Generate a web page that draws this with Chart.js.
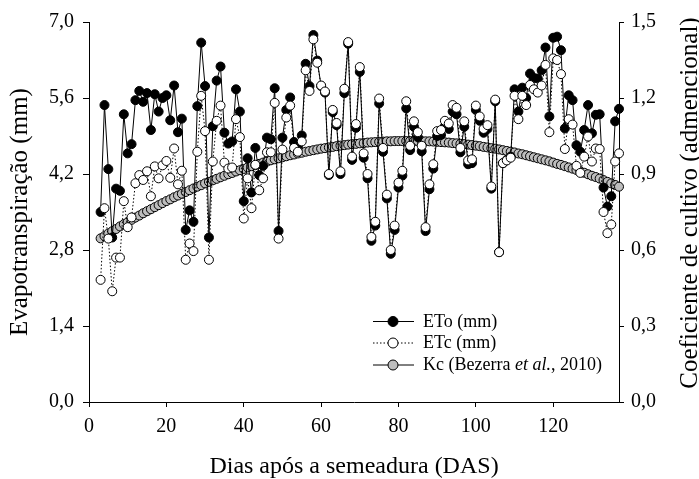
<!DOCTYPE html>
<html><head><meta charset="utf-8">
<script src="https://cdn.jsdelivr.net/npm/chart.js@4.4.0/dist/chart.umd.min.js"></script>
<style>html,body{margin:0;padding:0;background:#fff;}#wrap{width:699px;height:479px;}</style>
</head><body><div id="wrap"><canvas id="c" width="699" height="479"></canvas></div>
<script>
const days = [3,4,5,6,7,8,9,10,11,12,13,14,15,16,17,18,19,20,21,22,23,24,25,26,27,28,29,30,31,32,33,34,35,36,37,38,39,40,41,42,43,44,45,46,47,48,49,50,51,52,53,54,55,56,57,58,59,60,61,62,63,64,65,66,67,68,69,70,71,72,73,74,75,76,77,78,79,80,81,82,83,84,85,86,87,88,89,90,91,92,93,94,95,96,97,98,99,100,101,102,103,104,105,106,107,108,109,110,111,112,113,114,115,116,117,118,119,120,121,122,123,124,125,126,127,128,129,130,131,132,133,134,135,136,137];
const eto = [3.50,5.47,4.29,3.03,3.93,3.89,5.30,4.58,4.75,
5.56,5.73,5.53,5.69,5.01,5.67,5.35,5.60,5.65,5.19,
5.83,4.97,5.22,3.17,3.53,3.32,5.45,6.62,5.82,3.03,
5.08,5.92,6.18,4.96,4.76,4.80,5.76,5.35,3.70,4.49,
3.86,4.68,4.18,4.35,4.87,4.84,5.78,3.15,4.87,5.38,
5.61,4.79,4.70,4.91,6.23,5.82,6.76,6.29,5.82,5.70,
4.18,5.34,5.10,4.20,5.69,6.60,4.46,5.05,6.08,4.50,
4.12,2.97,3.25,5.50,4.61,3.75,2.73,3.17,3.95,4.17,
5.41,4.64,5.07,4.88,4.62,3.15,3.92,4.30,4.90,4.92,
5.08,5.03,5.35,5.30,4.60,5.07,4.38,4.40,5.38,5.18,
4.96,5.03,3.93,5.54,2.76,4.40,4.46,4.52,5.76,5.35,
5.79,5.60,6.05,5.97,5.96,6.11,6.53,5.26,6.71,6.73,
6.48,5.04,5.65,5.56,4.73,4.61,5.01,5.47,4.95,5.29,
5.30,3.95,3.60,3.79,5.17,5.40];
const etc = [2.25,3.57,3.01,2.04,2.66,2.66,3.70,3.22,3.40,
4.03,4.18,4.09,4.25,3.79,4.34,4.12,4.36,4.44,4.13,
4.67,4.01,4.26,2.62,2.92,2.78,4.61,5.64,4.99,2.62,
4.43,5.18,5.46,4.41,4.30,4.32,5.21,4.88,3.38,4.12,
3.57,4.37,3.90,4.12,4.60,4.60,5.51,3.01,4.65,5.24,
5.46,4.68,4.61,4.80,6.11,5.73,6.68,6.25,5.83,5.72,
4.20,5.38,5.14,4.25,5.77,6.63,4.52,5.12,6.17,4.58,
4.20,3.04,3.32,5.59,4.68,3.82,2.80,3.25,4.04,4.26,
5.54,4.72,5.17,4.97,4.72,3.22,4.01,4.38,4.99,5.01,
5.18,5.13,5.47,5.42,4.68,5.17,4.45,4.47,5.46,5.26,
5.03,5.10,3.97,5.57,2.76,4.40,4.45,4.50,5.64,5.21,
5.64,5.47,5.84,5.76,5.70,5.83,6.21,4.97,6.33,6.30,
6.04,4.66,5.21,5.11,4.35,4.22,4.52,4.89,4.43,4.67,
4.66,3.50,3.11,3.27,4.43,4.58];
const kc = [0.646,0.655,0.665,0.674,0.683,0.693,0.702,0.710,0.719,
0.728,0.736,0.745,0.753,0.761,0.769,0.777,0.785,0.793,0.800,
0.808,0.815,0.822,0.829,0.836,0.843,0.850,0.856,0.863,0.869,
0.875,0.881,0.887,0.893,0.899,0.904,0.910,0.915,0.920,0.926,
0.931,0.935,0.940,0.945,0.949,0.954,0.958,0.962,0.966,0.970,
0.974,0.977,0.981,0.984,0.988,0.991,0.994,0.997,1.000,1.002,
1.005,1.007,1.010,1.012,1.014,1.016,1.018,1.019,1.021,1.022,
1.024,1.025,1.026,1.027,1.028,1.029,1.029,1.030,1.030,1.030,
1.030,1.030,1.030,1.030,1.030,1.029,1.029,1.028,1.027,1.026,
1.025,1.024,1.022,1.021,1.019,1.018,1.016,1.014,1.012,1.010,
1.007,1.005,1.002,1.000,0.997,0.994,0.991,0.988,0.985,0.981,
0.978,0.974,0.970,0.966,0.962,0.958,0.954,0.950,0.945,0.940,
0.936,0.931,0.926,0.921,0.916,0.910,0.905,0.899,0.893,0.888,
0.882,0.876,0.869,0.863,0.857,0.850];
const xTicks = [0,20,40,60,80,100,120];
const yTicks = [0,1.4,2.8,4.2,5.6,7.0];
const y2Ticks = [0,0.3,0.6,0.9,1.2,1.5];
const labels = ['ETo (mm)','ETc (mm)','Kc'];
const kcLegendParts = [['Kc (Bezerra ',false],['et al.',true],[', 2010)',false]];

const SERIF = "'Liberation Serif', 'Times New Roman', serif";
const comma = v => v.toFixed(1).replace('.', ',');
const pts = arr => days.map((d,i)=>({x:d,y:arr[i]}));

const legendPlugin = {
  id:'customLegend',
  afterDraw(chart){
    const ctx = chart.ctx;
    const x0 = 373, x1 = 414, xm = 393, tx = 423;
    const rows = [321,342.5,364.5];
    ctx.save();
    ctx.textBaseline = 'middle';
    chart.data.datasets.forEach((ds,i)=>{
      const y = rows[i];
      ctx.beginPath();
      ctx.strokeStyle = '#000';
      ctx.lineWidth = 1;
      ctx.setLineDash(ds.borderDash || []);
      ctx.moveTo(x0,y+0.5); ctx.lineTo(x1,y+0.5); ctx.stroke();
      ctx.setLineDash([]);
      ctx.beginPath();
      ctx.arc(xm,y+0.5,5,0,Math.PI*2);
      ctx.fillStyle = ds.pointBackgroundColor; ctx.fill();
      ctx.strokeStyle = '#000'; ctx.stroke();
      ctx.fillStyle = '#000';
      if (i < 2) {
        ctx.font = "18px " + SERIF;
        ctx.fillText(ds.label, tx, y+1);
      } else {
        let x = tx;
        kcLegendParts.forEach(([t,it])=>{
          ctx.font = (it ? 'italic ' : '') + "18px " + SERIF;
          ctx.fillText(t, x, y+1);
          x += ctx.measureText(t).width;
        });
      }
    });
    // right axis title (reads bottom to top)
    ctx.translate(690, 203);
    ctx.rotate(-Math.PI/2);
    ctx.font = "25px " + SERIF;
    ctx.textAlign = 'center';
    ctx.textBaseline = 'middle';
    ctx.fillStyle = '#000';
    ctx.fillText('Coeficiente de cultivo (admencional)', 0, 0);
    ctx.restore();
  }
};

const axisCommon = (tickLen) => ({
  grid:{display:true, drawOnChartArea:false, drawTicks:true, tickLength:tickLen, color:'#000', lineWidth:1},
  border:{display:true, color:'#000', width:1}
});

new Chart(document.getElementById('c'), {
  type:'line',
  data:{datasets:[
    {label:labels[0], data:pts(eto), yAxisID:'y', borderColor:'#000', borderWidth:1, tension:0,
     pointRadius:4.5, pointBackgroundColor:'#000', pointBorderColor:'#000', pointBorderWidth:1, order:2, clip:false},
    {label:labels[1], data:pts(etc), yAxisID:'y', borderColor:'#000', borderWidth:1, borderDash:[1.5,2], tension:0,
     pointRadius:4.5, pointBackgroundColor:'#fff', pointBorderColor:'#000', pointBorderWidth:1, order:1, clip:false},
    {label:labels[2], data:pts(kc), yAxisID:'y1', borderColor:'#000', borderWidth:1, tension:0,
     pointRadius:4.5, pointBackgroundColor:'#bdbdbd', pointBorderColor:'#000', pointBorderWidth:1, order:3, clip:false}
  ]},
  options:{
    responsive:false, animation:false, devicePixelRatio:1,
    layout:{padding:{top:22,left:0,right:0,bottom:0}},
    plugins:{legend:{display:false}, tooltip:{enabled:false}},
    scales:{
      x:{type:'linear', position:'bottom', min:0, max:137, ...axisCommon(5),
        afterBuildTicks:s=>{s.ticks = xTicks.map(v=>({value:v}));},
        afterFit:s=>{s.height = 77;},
        ticks:{color:'#000', font:{family:SERIF, size:20}, padding:8, maxRotation:0, autoSkip:false, callback:v=>String(v)},
        title:{display:true, text:'Dias após a semeadura (DAS)', color:'#000', font:{family:SERIF, size:24}, padding:{top:0,bottom:-2}}
      },
      y:{type:'linear', position:'left', min:0, max:7, ...axisCommon(6),
        afterBuildTicks:s=>{s.ticks = yTicks.map(v=>({value:v}));},
        afterFit:s=>{s.width = 89;},
        ticks:{color:'#000', font:{family:SERIF, size:20}, padding:9, autoSkip:false, callback:v=>comma(v)},
        title:{display:true, text:'Evapotranspiração (mm)', color:'#000', font:{family:SERIF, size:25}, padding:{top:5,bottom:0}}
      },
      y1:{type:'linear', position:'right', min:0, max:1.5, ...axisCommon(5),
        afterBuildTicks:s=>{s.ticks = y2Ticks.map(v=>({value:v}));},
        afterFit:s=>{s.width = 80;},
        ticks:{color:'#000', font:{family:SERIF, size:20}, padding:7, autoSkip:false, callback:v=>comma(v)}
      }
    }
  },
  plugins:[legendPlugin]
});
</script></body></html>
